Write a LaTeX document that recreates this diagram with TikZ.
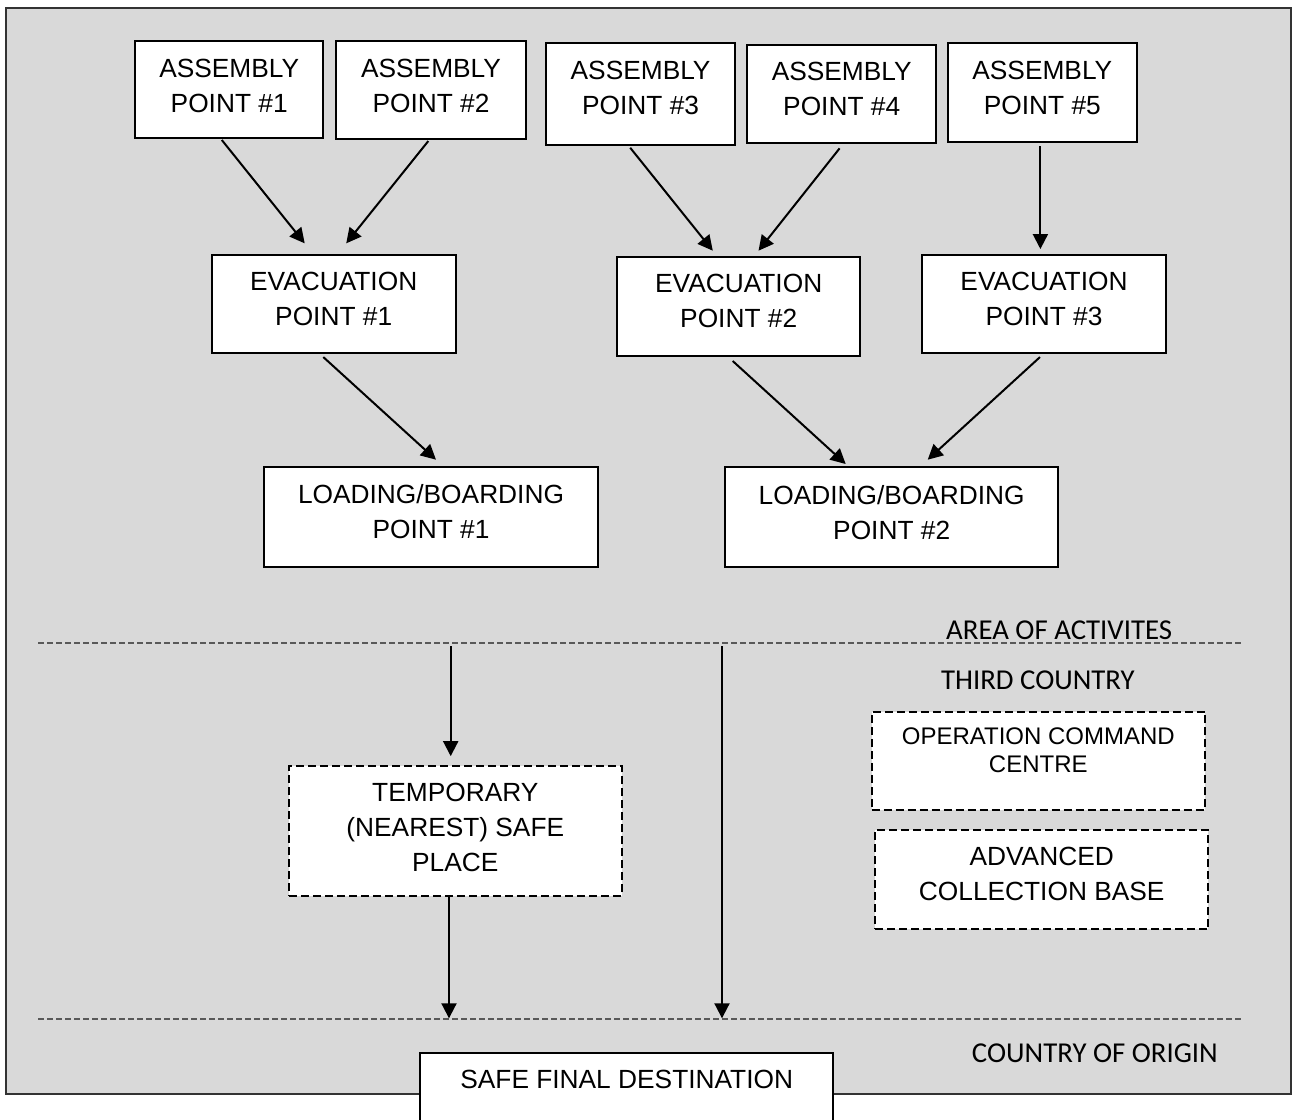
\documentclass[tikz,border=0pt]{standalone}
\usepackage{fontspec}
\setmainfont{Liberation Sans}
\newfontfamily\calib{Carlito}
\usetikzlibrary{arrows.meta,calc}
\begin{document}
\begin{tikzpicture}[x=0.5pt,y=-0.5pt,
  box/.style={draw=black, line width=1pt, fill=white, inner sep=0pt, rectangle},
  dbox/.style={box, line width=0.9pt, dash pattern=on 4pt off 2pt},
  txt/.style={font=\fontsize{13.15pt}{17.5pt}\selectfont, align=center, inner sep=0pt},
  stxt/.style={font=\fontsize{12pt}{13.85pt}\selectfont, align=center, inner sep=0pt},
  lbl/.style={font=\calib\fontsize{14.4pt}{17pt}\selectfont, anchor=base, inner sep=0pt},
  arr/.style={line width=1pt, -{Triangle[width=7.5pt,length=7.5pt]}},
  sepline/.style={draw=black!65, line width=0.6pt, dash pattern=on 3pt off 1.5pt}]
\useasboundingbox (0,0) rectangle (1292,1120);
% background area
\path[draw=black!80, line width=1pt, fill={rgb,255:red,217;green,217;blue,217}] (6,8.3) rectangle (1290.7,1094.3);

% separator lines
\coordinate (s1l) at (38.3,643);
\coordinate (s1r) at (1243,643);
\coordinate (s2l) at (38.3,1019);
\coordinate (s2r) at (1243.3,1019);
\draw[sepline] (s1l) -- (s1r);
\draw[sepline] (s2l) -- (s2r);

% assembly points
\node[box, minimum width=94.2pt, minimum height=48.5pt] (ap1) at (229.2,89.2) {};
\node[box, minimum width=94.75pt, minimum height=49.15pt] (ap2) at (431,89.9) {};
\node[box, minimum width=94.2pt, minimum height=50.85pt] (ap3) at (640.6,94.2) {};
\node[box, minimum width=94.35pt, minimum height=49.15pt] (ap4) at (841.7,94.2) {};
\node[box, minimum width=94.6pt, minimum height=49.2pt] (ap5) at (1042.3,92.5) {};
\node[txt] (ap1t) at (229.2,85.5) {ASSEMBLY\\POINT \#1};
\node[txt] (ap2t) at (431,85.5) {ASSEMBLY\\POINT \#2};
\node[txt] (ap3t) at (640.6,87.7) {ASSEMBLY\\POINT \#3};
\node[txt] (ap4t) at (841.7,89) {ASSEMBLY\\POINT \#4};
\node[txt] (ap5t) at (1042.3,87.5) {ASSEMBLY\\POINT \#5};

% evacuation points
\node[box, minimum width=122pt, minimum height=48.85pt] (ep1) at (333.7,303.9) {};
\node[box, minimum width=121.7pt, minimum height=49.2pt] (ep2) at (738.7,306.5) {};
\node[box, minimum width=122.05pt, minimum height=48.85pt] (ep3) at (1044,303.9) {};
\node[txt] (ep1t) at (333.7,299.4) {EVACUATION\\POINT \#1};
\node[txt] (ep2t) at (738.7,301.3) {EVACUATION\\POINT \#2};
\node[txt] (ep3t) at (1044,298.5) {EVACUATION\\POINT \#3};

% loading / boarding points
\node[box, minimum width=166.7pt, minimum height=50.3pt] (lb1) at (431,517) {};
\node[box, minimum width=166.65pt, minimum height=50pt] (lb2) at (891.7,517.3) {};
\node[txt] (lb1t) at (431,511.3) {LOADING/BOARDING\\POINT \#1};
\node[txt] (lb2t) at (891.7,513) {LOADING/BOARDING\\POINT \#2};

% third country boxes
\node[dbox, minimum width=166.35pt, minimum height=64.85pt] (tmp) at (455.3,830.9) {};
\node[txt] (tmpt) at (455.3,827.2) {TEMPORARY\\(NEAREST) SAFE\\PLACE};
\node[dbox, minimum width=166.65pt, minimum height=49.15pt] (occ) at (1038.3,760.9) {};
\node[stxt] (occt) at (1038.3,750.1) {OPERATION COMMAND\\CENTRE};
\node[dbox, minimum width=166.65pt, minimum height=49.65pt] (acb) at (1041.7,879.7) {};
\node[txt] (acbt) at (1041.7,873.7) {ADVANCED\\COLLECTION BASE};

% final destination
\node[box, minimum width=206.65pt, minimum height=36.15pt] (sfd) at (626.65,1088.85) {};
\node[txt, anchor=base] (sfdt) at (626.7,1088.3) {SAFE FINAL DESTINATION};

% region labels
\node[lbl] (area) at (1059.2,639.3) {AREA OF ACTIVITES};
\node[lbl] (third) at (1037.9,689.3) {THIRD COUNTRY};
\node[lbl] (origin) at (1094.9,1062.7) {COUNTRY OF ORIGIN};

% connectors
\draw[arr] ([shift={(-7.4,1.3)}]ap1.south) -- ([shift={(-29,-10.7)}]ep1.north);
\draw[arr] ([shift={(-2.7,1)}]ap2.south) -- ([shift={(12.5,-10.7)}]ep1.north);
\draw[arr] ([shift={(-10.4,1.7)}]ap3.south) -- ([shift={(-25.9,-5.6)}]ep2.north);
\draw[arr] ([shift={(-2.1,4)}]ap4.south) -- ([shift={(19.8,-5.6)}]ep2.north);
\draw[arr] ([shift={(-1.9,3.3)}]ap5.south) -- ([shift={(-3.6,-5)}]ep3.north);
\draw[arr] ([shift={(-10.4,3.3)}]ep1.south) -- ([shift={(5,-6)}]lb1.north);
\draw[arr] ([shift={(-6,4.3)}]ep2.south) -- ([shift={(-46,-2.3)}]lb2.north);
\draw[arr] ([shift={(-4,3.3)}]ep3.south) -- ([shift={(36,-6.6)}]lb2.north);

\coordinate (l1a) at (450.7,646);
\coordinate (l1b) at (722,646);
\coordinate (l2a) at (449,1018.3);
\coordinate (l2b) at (722,1018.3);
\draw[arr] (l1a) -- ([shift={(-4.6,-9)}]tmp.north);
\draw[arr] ([shift={(-6.3,0.3)}]tmp.south) -- (l2a);
\draw[arr] (l1b) -- (l2b);
\end{tikzpicture}
\end{document}
